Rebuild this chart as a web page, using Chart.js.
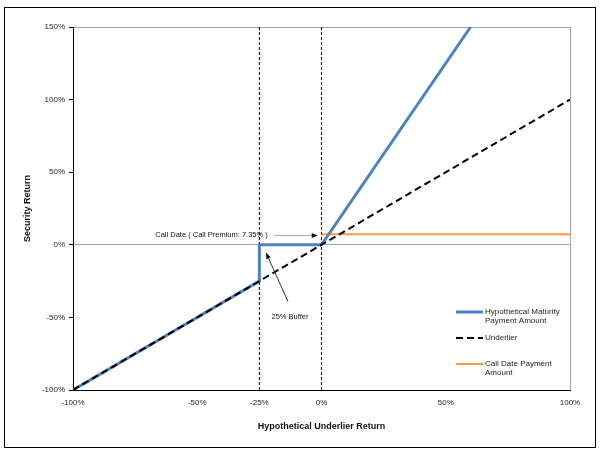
<!DOCTYPE html>
<html>
<head>
<meta charset="utf-8">
<script src="https://cdn.jsdelivr.net/npm/chart.js@4"></script>
<style>
  html, body { margin: 0; padding: 0; background: #fff; }
  #wrap { width: 606px; height: 454px; position: relative; }
</style>
</head>
<body>
<div id="wrap"><canvas id="chart" width="606" height="454"></canvas></div>
<script>
// Chart values
const xTicks = [-100, -50, -25, 0, 50, 100];
const yTicks = [-100, -50, 0, 50, 100, 150];
const underlierX = [-100, 100];
const underlierY = [-100, 100];
const maturityX = [-100, -25, -25, 0, 60];
const maturityY = [-100, -25, 0, 0, 150];
const callX = [0, 100];
const callY = [7.35, 7.35];
const markerX = [-25, 0];
const callPremium = 7.35;

const seriesNames = ['Hypothetical Maturity Payment Amount', 'Underlier', 'Call Date Payment Amount'];

function toPoints(xs, ys) {
  return xs.map((x, i) => ({ x: x, y: ys[i] }));
}

const FONT = 'Arial, "Liberation Sans", sans-serif';

// Frame, outer border, legend and notes
const decorPlugin = {
  id: 'decor',
  beforeDraw(chart) {
    const { ctx, chartArea: a } = chart;
    ctx.save();
    ctx.fillStyle = '#fff';
    ctx.fillRect(0, 0, chart.width, chart.height);
    ctx.strokeStyle = '#000';
    ctx.lineWidth = 1;
    ctx.strokeRect(4.5, 7.5, 591, 440);
    ctx.strokeStyle = '#a6a6a6';
    ctx.strokeRect(a.left + 0.5, a.top + 0.5, a.right - a.left, a.bottom - a.top);
    ctx.restore();
  },
  afterDraw(chart) {
    const { ctx } = chart;
    const xs = chart.scales.x, ys = chart.scales.y;
    ctx.save();

    // Legend
    const lx = 456, lw = 27, tx = 485;
    ctx.font = '8px ' + FONT;
    ctx.fillStyle = '#222';
    ctx.textBaseline = 'middle';
    ctx.textAlign = 'left';

    ctx.strokeStyle = '#4f81bd';
    ctx.lineWidth = 3;
    ctx.beginPath(); ctx.moveTo(lx, 312); ctx.lineTo(lx + lw, 312); ctx.stroke();
    ctx.fillText('Hypothetical Maturity', tx, 312);
    ctx.fillText('Payment Amount', tx, 321);

    ctx.strokeStyle = '#000';
    ctx.lineWidth = 2;
    ctx.setLineDash([7, 4]);
    ctx.beginPath(); ctx.moveTo(lx, 338); ctx.lineTo(lx + lw, 338); ctx.stroke();
    ctx.setLineDash([]);
    ctx.fillText('Underlier', tx, 338);

    ctx.strokeStyle = '#f79646';
    ctx.lineWidth = 2;
    ctx.beginPath(); ctx.moveTo(lx, 364); ctx.lineTo(lx + lw, 364); ctx.stroke();
    ctx.fillText('Call Date Payment', tx, 364);
    ctx.fillText('Amount', tx, 373);

    // Call date note
    const tipX = xs.getPixelForValue(-1.5), tipY = ys.getPixelForValue(callPremium - 0.9);
    ctx.font = '7.5px ' + FONT;
    ctx.fillStyle = '#111';
    ctx.textAlign = 'right';
    ctx.fillText('Call Date ( Call Premium: ' + callPremium + '% )', tipX - 50, tipY);
    ctx.strokeStyle = '#a6a6a6';
    ctx.lineWidth = 1;
    ctx.beginPath(); ctx.moveTo(tipX - 44, tipY); ctx.lineTo(tipX - 5, tipY); ctx.stroke();
    arrowHead(ctx, tipX - 44, tipY, tipX, tipY);

    // Buffer note
    const bx0 = xs.getPixelForValue(-13.5), by0 = ys.getPixelForValue(-39);
    const bx1 = xs.getPixelForValue(-22.3), by1 = ys.getPixelForValue(-5.5);
    ctx.strokeStyle = '#333';
    ctx.beginPath(); ctx.moveTo(bx0, by0); ctx.lineTo(bx1, by1); ctx.stroke();
    arrowHead(ctx, bx0, by0, bx1, by1);
    ctx.textAlign = 'center';
    ctx.fillText('25% Buffer', xs.getPixelForValue(-12.7), ys.getPixelForValue(-49.8));
    ctx.restore();
  }
};

function arrowHead(ctx, x0, y0, x1, y1) {
  const ang = Math.atan2(y1 - y0, x1 - x0);
  const len = 6, w = 2.5;
  ctx.fillStyle = '#111';
  ctx.beginPath();
  ctx.moveTo(x1, y1);
  ctx.lineTo(x1 - len * Math.cos(ang) + w * Math.sin(ang), y1 - len * Math.sin(ang) - w * Math.cos(ang));
  ctx.lineTo(x1 - len * Math.cos(ang) - w * Math.sin(ang), y1 - len * Math.sin(ang) + w * Math.cos(ang));
  ctx.closePath();
  ctx.fill();
}

const markerSets = markerX.map((x) => ({
  label: 'marker' + x,
  data: [{ x: x, y: yTicks[0] }, { x: x, y: yTicks[yTicks.length - 1] }],
  borderColor: '#000',
  borderWidth: 1,
  borderDash: [3, 2],
  pointRadius: 0,
  order: 4,
}));

new Chart(document.getElementById('chart'), {
  type: 'line',
  data: {
    datasets: [
      {
        label: seriesNames[1],
        data: toPoints(underlierX, underlierY),
        borderColor: '#000',
        borderWidth: 2,
        borderDash: [7, 4],
        pointRadius: 0,
        order: 1,
      },
      {
        label: seriesNames[0],
        data: toPoints(maturityX, maturityY),
        borderColor: '#4f81bd',
        borderWidth: 3,
        pointRadius: 0,
        order: 2,
      },
      {
        label: seriesNames[2],
        data: toPoints(callX, callY),
        borderColor: '#f79646',
        borderWidth: 2,
        pointRadius: 0,
        order: 3,
      },
      ...markerSets,
    ],
  },
  options: {
    responsive: false,
    animation: false,
    layout: { padding: { left: 18, top: 27, right: 36, bottom: 18 } },
    plugins: { legend: { display: false }, tooltip: { enabled: false } },
    scales: {
      x: {
        type: 'linear',
        min: -100,
        max: 100,
        afterBuildTicks: (s) => { s.ticks = xTicks.map((v) => ({ value: v })); },
        afterFit: (s) => { s.height = 46; },
        grid: { display: false },
        border: { color: '#000', width: 1 },
        ticks: {
          padding: 0,
          color: '#222',
          font: { size: 8, family: FONT },
          callback: (v) => v + '%',
        },
        title: {
          display: true,
          text: 'Hypothetical Underlier Return',
          color: '#111',
          font: { size: 9, weight: 'bold', family: FONT },
          padding: { top: 0, bottom: 4 },
        },
      },
      y: {
        type: 'linear',
        min: -100,
        max: 150,
        afterBuildTicks: (s) => { s.ticks = yTicks.map((v) => ({ value: v })); },
        afterFit: (s) => { s.width = 55; },
        grid: {
          color: (c) => (c.tick && c.tick.value === 0 ? '#a6a6a6' : 'rgba(0,0,0,0)'),
          tickColor: '#000',
          tickLength: 4,
        },
        border: { color: '#000', width: 1 },
        ticks: {
          padding: 4,
          color: '#222',
          font: { size: 8, family: FONT },
          callback: (v) => v + '%',
        },
        title: {
          display: true,
          text: 'Security Return',
          color: '#111',
          font: { size: 9, weight: 'bold', family: FONT },
          padding: { top: 4, bottom: 0 },
        },
      },
    },
  },
  plugins: [decorPlugin],
});
</script>
</body>
</html>
